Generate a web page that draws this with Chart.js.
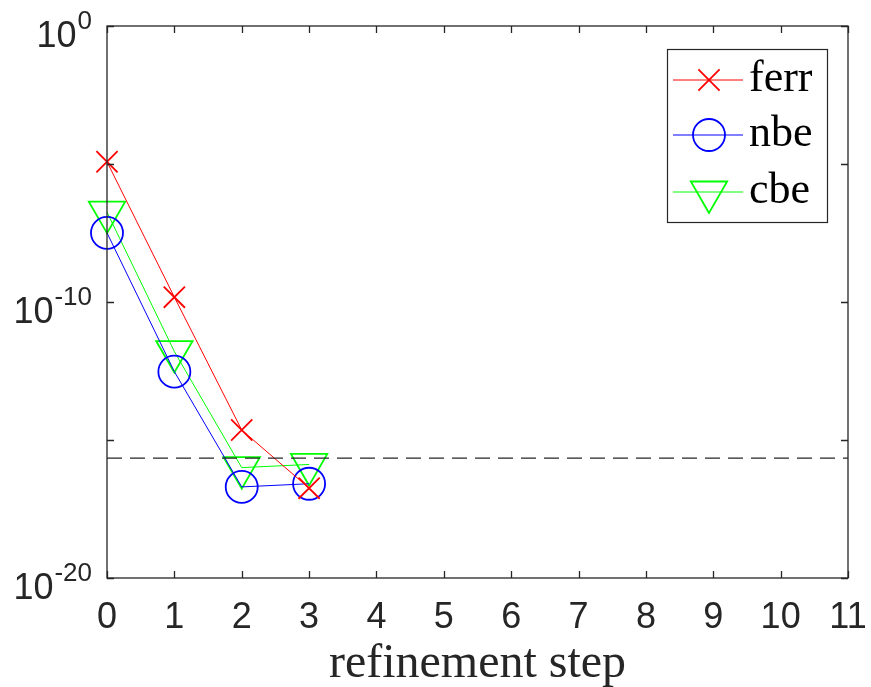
<!DOCTYPE html>
<html>
<head>
<meta charset="utf-8">
<script src="https://cdn.jsdelivr.net/npm/chart.js@4.4.1/dist/chart.umd.min.js"></script>
<style>
  html, body { margin: 0; padding: 0; background: #fff; }
  #wrap { width: 871px; height: 687px; }
</style>
</head>
<body>
<div id="wrap"><canvas id="c" width="871" height="687"></canvas></div>
<script>
// refinement steps and error values
const steps = [0, 1, 2, 3]
const ferr = [1.2e-5, 1.5e-10, 2.3e-15, 1.8e-17]
const nbe = [3.2e-8, 3.0e-13, 2.0e-17, 2.6e-17]
const cbe = [1.8e-7, 1.6e-12, 1.0e-16, 1.3e-16]
const epsLevel = 2.22e-16
const xTicks = [0, 1, 2, 3, 4, 5, 6, 7, 8, 9, 10, 11]
const yTicks = [1, 1e-5, 1e-10, 1e-15, 1e-20]
const yLabels = [[1, '0'], [1e-10, '-10'], [1e-20, '-20']]
const seriesNames = ['ferr', 'nbe', 'cbe']

const axisColor = '#262626'

function toPoints(vals) {
    return vals.map((v, i) => ({x: steps[i], y: v}))
}

const series = [
    {label: seriesNames[0], data: toPoints(ferr), color: '#ff0000', pointStyle: 'crossRot', radius: 15, rotation: 0},
    {label: seriesNames[1], data: toPoints(nbe), color: '#0000ff', pointStyle: 'circle', radius: 16, rotation: 0},
    {label: seriesNames[2], data: toPoints(cbe), color: '#00ff00', pointStyle: 'triangle', radius: 21, rotation: 180}
]

const datasets = series.map(s => ({
    label: s.label,
    data: s.data,
    clip: false,
    borderColor: s.color,
    backgroundColor: 'transparent',
    borderWidth: 1,
    pointStyle: s.pointStyle,
    pointRadius: s.radius,
    pointRotation: s.rotation,
    pointBorderWidth: 1.8,
    pointBorderColor: s.color,
    pointBackgroundColor: 'transparent',
    tension: 0
}))

datasets.unshift({
    label: 'eps',
    data: [{x: xTicks[0], y: epsLevel}, {x: xTicks[xTicks.length - 1], y: epsLevel}],
    borderColor: axisColor,
    borderWidth: 1.2,
    borderDash: [15, 8],
    pointRadius: 0
})

// axes box, inward ticks, labels and legend drawn like the matlab figure
const matlabAxes = {
    id: 'matlabAxes',
    afterDraw(chart) {
        const ctx = chart.ctx
        const a = chart.chartArea
        const xs = chart.scales.x
        const ys = chart.scales.y
        ctx.save()
        ctx.strokeStyle = axisColor
        ctx.lineWidth = 1.3
        ctx.strokeRect(a.left, a.top, a.right - a.left, a.bottom - a.top)

        const tl = 7
        ctx.beginPath()
        xTicks.forEach(t => {
            const px = Math.round(xs.getPixelForValue(t)) + 0.5
            ctx.moveTo(px, a.bottom); ctx.lineTo(px, a.bottom - tl)
            ctx.moveTo(px, a.top); ctx.lineTo(px, a.top + tl)
        })
        yTicks.forEach(t => {
            const py = Math.round(ys.getPixelForValue(t)) + 0.5
            ctx.moveTo(a.left, py); ctx.lineTo(a.left + tl, py)
            ctx.moveTo(a.right, py); ctx.lineTo(a.right - tl, py)
        })
        ctx.stroke()

        ctx.fillStyle = axisColor
        ctx.textBaseline = 'alphabetic'
        ctx.font = '36px "Liberation Sans", Arial, sans-serif'
        ctx.textAlign = 'center'
        xTicks.forEach(t => {
            ctx.fillText(String(t), xs.getPixelForValue(t), a.bottom + 50)
        })

        yLabels.forEach(([v, exp]) => {
            const py = ys.getPixelForValue(v)
            ctx.font = '26px "Liberation Sans", Arial, sans-serif'
            const ew = ctx.measureText(exp).width
            ctx.textAlign = 'right'
            ctx.fillText(exp, 92, py + 3)
            ctx.font = '36px "Liberation Sans", Arial, sans-serif'
            ctx.fillText('10', 92 - ew - 1, py + 21)
        })

        ctx.font = '48px "Liberation Serif", "Times New Roman", serif'
        ctx.textAlign = 'center'
        ctx.fillText('refinement step', (a.left + a.right) / 2, 677)

        // legend
        const lx = 667, ly = 49, lw = 160, lh = 173
        ctx.fillStyle = '#ffffff'
        ctx.fillRect(lx, ly, lw, lh)
        ctx.strokeStyle = axisColor
        ctx.lineWidth = 1.2
        ctx.strokeRect(lx + 0.5, ly + 0.5, lw, lh)
        const rowsY = [80, 135, 192]
        series.forEach((s, i) => {
            const y = rowsY[i]
            ctx.strokeStyle = s.color
            ctx.lineWidth = 1
            ctx.beginPath()
            ctx.moveTo(673, y); ctx.lineTo(743, y)
            ctx.stroke()
            ctx.lineWidth = 1.8
            ctx.fillStyle = 'rgba(0,0,0,0)'
            Chart.helpers.drawPoint(ctx, {pointStyle: s.pointStyle, radius: s.radius, rotation: s.rotation, borderWidth: 1.8}, 709, y)
            ctx.fillStyle = '#000000'
            ctx.font = '44px "Liberation Serif", "Times New Roman", serif'
            ctx.textAlign = 'left'
            ctx.textBaseline = 'middle'
            ctx.fillText(s.label, 749, y - 1)
        })
        ctx.restore()
    }
}

new Chart(document.getElementById('c'), {
    type: 'line',
    data: {datasets: datasets},
    options: {
        responsive: false,
        animation: false,
        events: [],
        layout: {padding: {top: 26, right: 23, left: 0, bottom: 0}},
        plugins: {legend: {display: false}, tooltip: {enabled: false}},
        scales: {
            x: {
                type: 'linear', min: 0, max: 11,
                ticks: {display: false},
                grid: {display: false},
                border: {display: false},
                afterFit: s => { s.height = 109 }
            },
            y: {
                type: 'logarithmic', min: 1e-20, max: 1,
                ticks: {display: false},
                grid: {display: false},
                border: {display: false},
                afterFit: s => { s.width = 107 }
            }
        }
    },
    plugins: [matlabAxes]
})
</script>
</body>
</html>
